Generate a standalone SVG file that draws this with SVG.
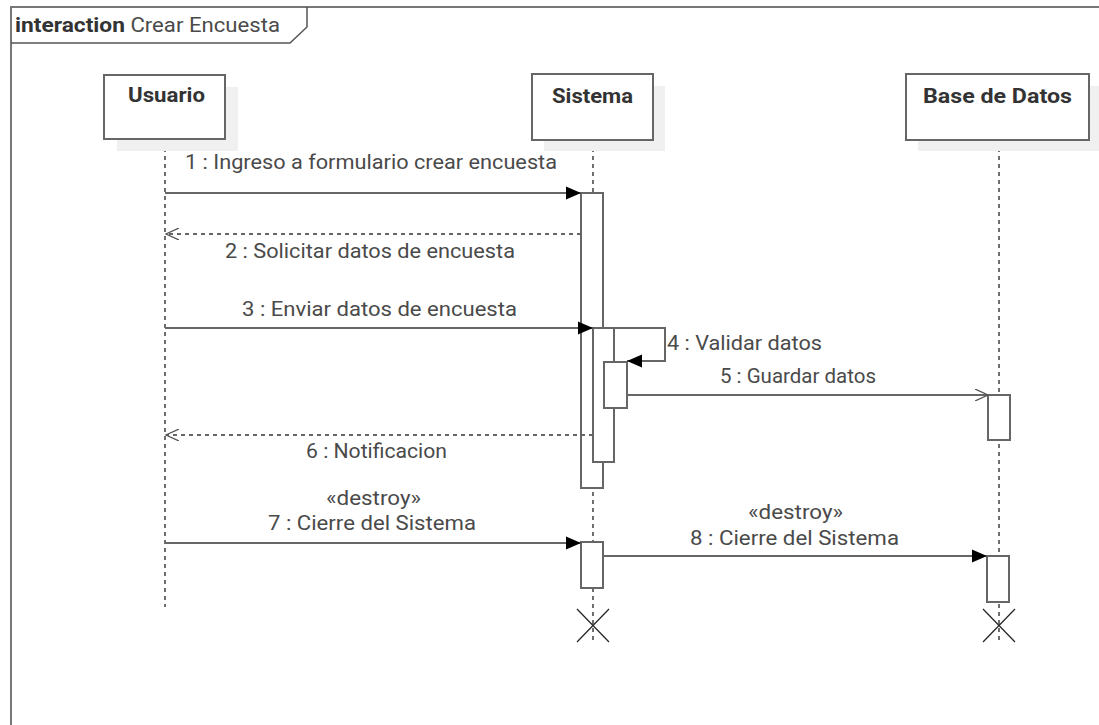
<svg xmlns="http://www.w3.org/2000/svg" width="1099" height="725" viewBox="0 0 1099 725">
<defs>
<marker id="filled" markerWidth="16" markerHeight="14" refX="15" refY="7" orient="auto" markerUnits="userSpaceOnUse"><path d="M0,0.5 L15,7 L0,13.5 Z" fill="#000"/></marker>
<marker id="open" markerWidth="14" markerHeight="12" refX="13" refY="6" orient="auto" markerUnits="userSpaceOnUse"><path d="M0,0 L13,6 L0,12" fill="none" stroke="#555" stroke-width="1.3"/></marker>
</defs>
<style>
text{font-family:Roboto,"Liberation Sans",sans-serif;font-size:19.5px;fill:#4a4a4a}
.b{font-weight:bold;fill:#333;font-size:20px}
.box{fill:#fff;stroke:#666;stroke-width:2}
.sh{fill:#f0f0f0}
.life{stroke:#222;stroke-width:1.3;stroke-dasharray:4,4;fill:none}
.act{fill:#fff;stroke:#666;stroke-width:2}
.msg{stroke:#666;stroke-width:2;fill:none}
.ret{stroke:#666;stroke-width:2;fill:none;stroke-dasharray:4,4}
.x{stroke:#222;stroke-width:1.2}
</style>
<rect x="0" y="0" width="1099" height="725" fill="#fff"/>
<g id="frame">
<path d="M11,725 L11,7 L1099,7" fill="none" stroke="#777" stroke-width="2"/>
<path d="M11,43 L290,43 L307,27 L307,7" fill="none" stroke="#555" stroke-width="1.5"/>
<text x="15" y="32" textLength="265" lengthAdjust="spacingAndGlyphs"><tspan class="b">interaction</tspan> Crear Encuesta</text>
</g>
<g id="lifelines">
<path class="life" d="M165,140 V607"/>
<path class="life" d="M593,140 V640"/>
<path class="life" d="M999,140 V640"/>
</g>
<g id="usuario">
<rect class="sh" x="117" y="87" width="121" height="64"/>
<rect class="box" x="104" y="75" width="121" height="64"/>
<text class="b" x="166.5" y="102" text-anchor="middle" textLength="77" lengthAdjust="spacingAndGlyphs">Usuario</text>
</g>
<g id="sistema">
<rect class="sh" x="544" y="86" width="121" height="65"/>
<rect class="box" x="532" y="74" width="121" height="66"/>
<text class="b" x="592.5" y="102.5" text-anchor="middle" textLength="81" lengthAdjust="spacingAndGlyphs">Sistema</text>
</g>
<g id="basededatos">
<rect class="sh" x="918" y="86" width="181" height="65"/>
<rect class="box" x="906" y="74" width="183" height="66"/>
<text class="b" x="997.5" y="103" text-anchor="middle" textLength="149" lengthAdjust="spacingAndGlyphs">Base de Datos</text>
</g>
<g id="activations">
<rect class="act" x="581" y="193" width="22" height="295"/>
<rect class="act" x="593" y="328" width="21" height="134"/>
<rect class="act" x="604" y="362" width="23" height="46"/>
<rect class="act" x="988" y="395" width="22" height="45"/>
<rect class="act" x="581" y="542" width="22" height="46"/>
<rect class="act" x="987" y="556" width="22" height="46"/>
</g>
<g id="connectors">
<path class="msg" d="M165,193 H581" marker-end="url(#filled)"/>
<path class="ret" d="M581,234 H166" marker-end="url(#open)"/>
<path class="msg" d="M165,328 H593" marker-end="url(#filled)"/>
<path class="msg" d="M614,328 H665 V361 H627" marker-end="url(#filled)"/>
<path class="msg" d="M627,395 H988" marker-end="url(#open)"/>
<path class="ret" d="M593,435 H166" marker-end="url(#open)"/>
<path class="msg" d="M165,543 H581" marker-end="url(#filled)"/>
<path class="msg" d="M603,556 H987" marker-end="url(#filled)"/>
</g>
<g id="labels">
<text x="371" y="169" text-anchor="middle" textLength="372" lengthAdjust="spacingAndGlyphs">1 : Ingreso a formulario crear encuesta</text>
<text x="370" y="258" text-anchor="middle" textLength="290" lengthAdjust="spacingAndGlyphs">2 : Solicitar datos de encuesta</text>
<text x="379.5" y="316" text-anchor="middle" textLength="275" lengthAdjust="spacingAndGlyphs">3 : Enviar datos de encuesta</text>
<text x="667" y="350" textLength="155" lengthAdjust="spacingAndGlyphs">4 : Validar datos</text>
<text x="798" y="383" text-anchor="middle" textLength="156" lengthAdjust="spacingAndGlyphs">5 : Guardar datos</text>
<text x="376.5" y="458" text-anchor="middle" textLength="141" lengthAdjust="spacingAndGlyphs">6 : Notificacion</text>
<text x="373.5" y="505" text-anchor="middle" textLength="95" lengthAdjust="spacingAndGlyphs">«destroy»</text>
<text x="372" y="530" text-anchor="middle" textLength="208" lengthAdjust="spacingAndGlyphs">7 : Cierre del Sistema</text>
<text x="795.5" y="519" text-anchor="middle" textLength="95" lengthAdjust="spacingAndGlyphs">«destroy»</text>
<text x="794.5" y="545" text-anchor="middle" textLength="209" lengthAdjust="spacingAndGlyphs">8 : Cierre del Sistema</text>
</g>
<g id="destroy">
<path class="x" d="M577,609 L609,642 M609,609 L577,642"/>
<path class="x" d="M983,609 L1015,642 M1015,609 L983,642"/>
</g>
</svg>
